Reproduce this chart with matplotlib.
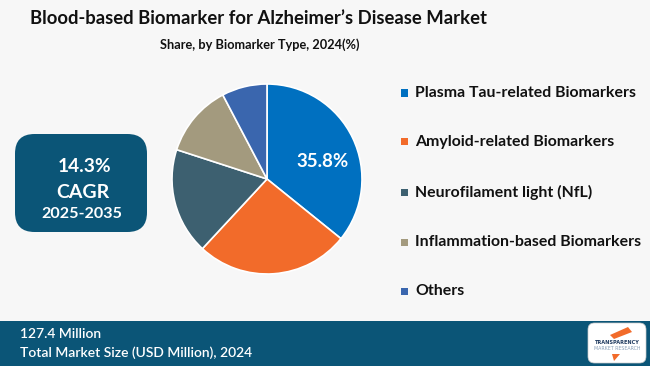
import matplotlib
matplotlib.use("Agg")
import matplotlib.pyplot as plt
from matplotlib.patches import FancyBboxPatch, Rectangle, Polygon

categories = ["Plasma Tau-related Biomarkers", "Amyloid-related Biomarkers",
              "Neurofilament light (NfL)", "Inflammation-based Biomarkers", "Others"]
shares = [35.8, 26.1, 18.1, 12.3, 7.7]
colors = ["#0070C0", "#F26B2A", "#3D6070", "#A39A7E", "#3A66AE"]
title = "Blood-based Biomarker for Alzheimer\u2019s Disease Market"
subtitle = "Share, by Biomarker Type, 2024(%)"
cagr_lines = ["14.3%", "CAGR", "2025-2035"]
market_value = "127.4 Million"
market_label = "Total Market Size (USD Million), 2024"

W, H = 650, 366
BG = "#F7F7F7"
DARK = "#0B5577"
fig = plt.figure(figsize=(W / 100, H / 100), dpi=100, facecolor=BG)

def fx(x): return x / W
def fy(y): return 1 - y / H

fig.text(fx(258), fy(19), title, ha="center", va="center", fontsize=13.3,
         fontweight="bold", family="Lato", color="#111111")
fig.text(fx(260), fy(45), subtitle, ha="center", va="center", fontsize=9.2,
         fontweight="bold", family="Lato", color="#111111")

# pie
ax = fig.add_axes([fx(172), fy(274), 190 / W, 190 / H])
wedges, _ = ax.pie(shares, colors=colors, startangle=90, counterclock=False,
                   wedgeprops=dict(edgecolor="white", linewidth=1.2))
ax.set_xlim(-1.0, 1.0)
ax.set_ylim(-1.0, 1.0)
ax.set_aspect("equal")
ax.text(0.58, 0.18, f"{shares[0]}%", ha="center", va="center", color="white",
        fontsize=13.5, fontweight="bold", family="Lato")

# legend
ys = [93, 142, 192, 242, 291]
for cat, col, y in zip(categories, colors, ys):
    fig.patches.append(Rectangle((fx(401), fy(y + 3.5)), 7 / W, 7 / H,
                                 transform=fig.transFigure, facecolor=col, edgecolor="none"))
    fig.text(fx(415), fy(y), cat, ha="left", va="center", fontsize=11.4,
             fontweight="bold", family="Lato", color="#111111")

# CAGR box
box = FancyBboxPatch((fx(15), fy(232)), 132 / W, 98 / H,
                     boxstyle="round,pad=0,rounding_size=0.03",
                     transform=fig.transFigure, facecolor=DARK, edgecolor="none",
                     mutation_aspect=W / H)
fig.patches.append(box)
fig.text(fx(85), fy(167), cagr_lines[0], ha="center", va="center", color="white",
         fontsize=13.8, fontweight="bold", family="Lato")
fig.text(fx(83), fy(192), cagr_lines[1], ha="center", va="center", color="white",
         fontsize=14, fontweight="bold", family="Lato")
fig.text(fx(82), fy(214), cagr_lines[2], ha="center", va="center", color="white",
         fontsize=11.6, fontweight="bold", family="Lato")

# bottom band
fig.patches.append(Rectangle((0, 0), 1, 45 / H, transform=fig.transFigure,
                             facecolor=DARK, edgecolor="none"))
fig.text(fx(20), fy(334), market_value, ha="left", va="center", color="white",
         fontsize=10, family="Lato", fontweight="semibold")
fig.text(fx(20), fy(353), market_label, ha="left", va="center", color="white",
         fontsize=10, family="Lato", fontweight="semibold")

# logo
logo = FancyBboxPatch((fx(588), fy(363)), 58 / W, 40 / H,
                      boxstyle="round,pad=0,rounding_size=0.01",
                      transform=fig.transFigure, facecolor="white", edgecolor="#cccccc",
                      linewidth=0.5, mutation_aspect=W / H)
fig.patches.append(logo)
fig.patches.append(Polygon([(fx(610), fy(335)), (fx(628), fy(327)), (fx(632), fy(332)),
                            (fx(614), fy(339))], closed=True, transform=fig.transFigure,
                           facecolor="#F26B2A", edgecolor="none"))
fig.text(fx(617), fy(343), "TRANSPARENCY", ha="center", va="center", fontsize=3.6,
         fontweight="bold", color="#1F3A5F", family="DejaVu Sans")
fig.text(fx(617), fy(349), "MARKET RESEARCH", ha="center", va="center", fontsize=3.4,
         color="#8aa0b8", family="DejaVu Sans")
fig.patches.append(Polygon([(fx(612), fy(354)), (fx(620), fy(354)), (fx(614), fy(361))],
                           closed=True, transform=fig.transFigure,
                           facecolor="#F26B2A", edgecolor="none"))

fig.savefig("out.png", dpi=100, facecolor=BG)
